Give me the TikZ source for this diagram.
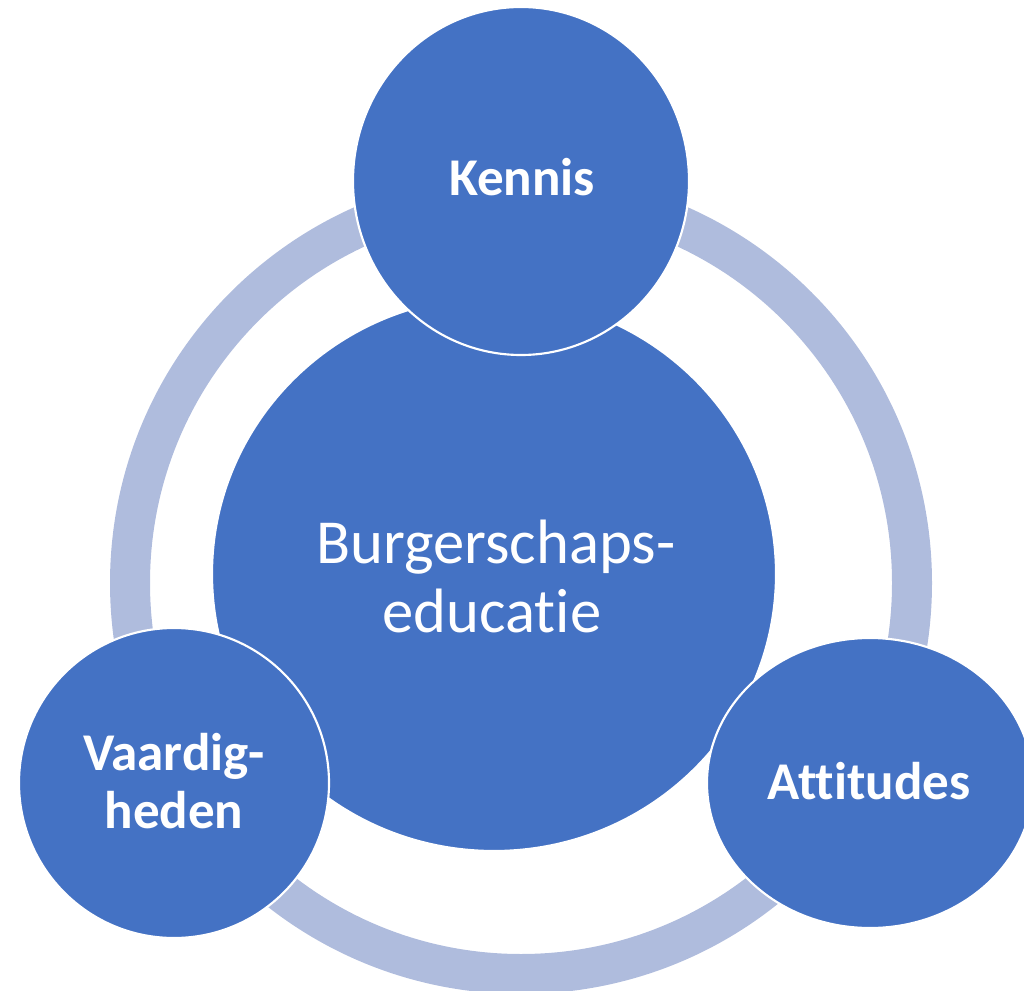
\documentclass[tikz,border=0pt]{standalone}
\usepackage{fontspec}
\setmainfont{Carlito}[Ligatures={NoCommon}]
\usetikzlibrary{shapes.geometric}
\definecolor{bluefill}{HTML}{4472C4}
\definecolor{ringcol}{HTML}{AFBCDD}
\tikzset{
  blob/.style={ellipse, fill=bluefill, draw=white, line width=1.6pt, inner sep=0pt, outer sep=0pt},
  boldlabel/.style={text=white, anchor=base, inner sep=0pt, font=\fontsize{39.8}{46}\selectfont\bfseries},
  mainlabel/.style={text=white, anchor=base, inner sep=0pt, font=\fontsize{47}{54}\selectfont},
}
\begin{document}
\begin{tikzpicture}[x=0.75pt,y=-0.75pt]
\useasboundingbox (0,0) rectangle (1024,991);
% ring
\draw[ringcol, line width=30pt] (521,583) circle[radius=391];
% centre
\node[blob, minimum width=423pt, minimum height=415.5pt] (centre) at (494,574) {};
% satellites
\node[blob, minimum width=252pt, minimum height=261pt] (kennis) at (521,181) {};
\node[blob, minimum width=232.5pt, minimum height=232.5pt] (vaard) at (174,783) {};
\node[blob, minimum width=244.5pt, minimum height=217.5pt] (attit) at (870,783) {};
% texts
\node[mainlabel] (t1) at (496,563) {Burgerschaps-};
\node[mainlabel] (t2) at (492,632) {educatie};
\node[boldlabel] (tk) at (522,196) {Kennis};
\node[boldlabel] (tv1) at (174,770) {Vaardig-};
\node[boldlabel] (tv2) at (174,828) {heden};
\node[boldlabel] (ta) at (869,799) {Attitudes};
\end{tikzpicture}
\end{document}
